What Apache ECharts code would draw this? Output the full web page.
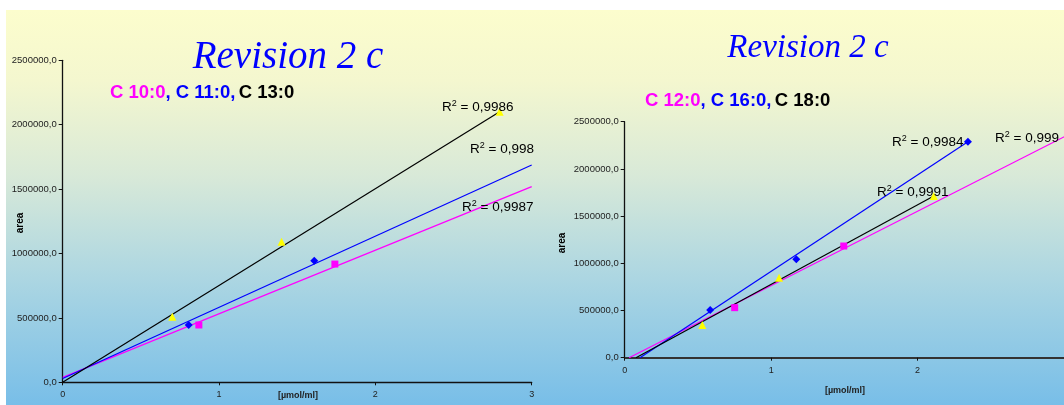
<!DOCTYPE html>
<html>
<head>
<meta charset="utf-8">
<script src="https://cdn.jsdelivr.net/npm/echarts@6/dist/echarts.min.js"></script>
<style>
html,body{margin:0;padding:0;background:#fff;}
#bg{position:absolute;left:6px;top:10px;width:1058px;height:395px;
background:linear-gradient(to bottom,#fcfdcd 0%,#f4f7cf 18%,#d8e9d8 42%,#acd6e2 68%,#78bee8 100%);}
#chart{position:absolute;left:0;top:0;width:1064px;height:405px;}
</style>
</head>
<body>
<div id="bg"></div>
<div id="chart"></div>
<script>
// ---- data ----
const titleText = 'Revision 2 c';
const leftNames = ['C 10:0', 'C 11:0', 'C 13:0'];
const rightNames = ['C 12:0', 'C 16:0', 'C 18:0'];
const xTicks = [0, 1, 2, 3];
const yTicks = [0, 500000, 1000000, 1500000, 2000000, 2500000];

// left panel points [µmol/ml, area]
const c10 = [[0.871, 445000], [1.741, 918000]];
const c11 = [[0.806, 445000], [1.609, 944000]];
const c13 = [[0.701, 509000], [1.400, 1092000], [2.795, 2100000]];
// left trendline endpoints
const c10Trend = [[0, 38000], [3, 1519000]];
const c11Trend = [[0, 30000], [3, 1687000]];
const c13Trend = [[0, 0], [2.795, 2100000]];
const leftR2 = ['0,9987', '0,998', '0,9986'];

// right panel points
const c12 = [[0.751, 530000], [1.496, 1183000]];
const c16 = [[0.584, 505000], [1.172, 1042000], [2.344, 2288000]];
const c18 = [[0.530, 346000], [1.054, 847000], [2.111, 1713000]];
// right trendline endpoints
const c12Trend = [[0.03, 0], [3.05, 2378000]];
const c16Trend = [[0.104, 0], [2.344, 2288000]];
const c18Trend = [[0.077, 0], [2.111, 1713000]];
const rightR2 = ['0,999', '0,9984', '0,9991'];

const MAG = '#ff00ff', BLU = '#0000ff', BLK = '#000000', YEL = '#ffff00';

const chart = echarts.init(document.getElementById('chart'), null, {renderer: 'canvas'});

function yFmt(v) { return v.toFixed(1).replace('.', ','); }

function xAxis(i) {
  return {
    type: 'value', gridIndex: i, min: xTicks[0], max: xTicks[xTicks.length - 1], interval: 1,
    axisLine: {onZero: false, lineStyle: {color: i === 0 ? '#111' : '#333', width: i === 0 ? 1.3 : 1.8}},
    axisTick: {show: true, length: 3, lineStyle: {color: '#111'}},
    axisLabel: {fontFamily: 'Liberation Sans, Arial', fontSize: 9, color: '#222', margin: 8,
      showMaxLabel: i === 0},
    splitLine: {show: false}
  };
}
function yAxis(i) {
  return {
    type: 'value', gridIndex: i, min: yTicks[0], max: yTicks[yTicks.length - 1], interval: 500000,
    axisLine: {show: true, lineStyle: {color: '#111', width: 1.3}},
    axisTick: {show: true, length: 4, lineStyle: {color: '#111'}},
    axisLabel: {fontFamily: 'Liberation Sans, Arial', fontSize: 9.5, color: '#222', margin: 6, formatter: yFmt},
    splitLine: {show: false}
  };
}
function pts(data, idx, color, symbol, size) {
  return {type: 'scatter', xAxisIndex: idx, yAxisIndex: idx, data: data, symbol: symbol,
    symbolSize: size, itemStyle: {color: color, opacity: 1}, z: 3, silent: true};
}
function trend(data, idx, color) {
  return {type: 'line', xAxisIndex: idx, yAxisIndex: idx, data: data, symbol: 'none',
    lineStyle: {color: color, width: 1.2}, z: 2, clip: true, silent: true, animation: false};
}
function r2(txt, x, y) {
  return {type: 'text', left: x, top: y - 9, z: 10,
    style: {text: 'R{s|2} = ' + txt, font: '13.5px Liberation Sans', fill: '#000',
      rich: {s: {fontSize: 9, fontFamily: 'Liberation Sans', padding: [0, 0, 7, 0], fill: '#000'}}}};
}
function sub(names, x, y) {
  const f = {fontFamily: 'Liberation Sans', fontWeight: 'bold', fontSize: 18.5};
  return {type: 'text', left: x, top: y - 11, z: 10,
    style: {text: '{m|' + names[0] + '}{b|, ' + names[1] + ',} {k|' + names[2] + '}',
      rich: {
        m: Object.assign({fill: MAG, color: MAG}, f),
        b: Object.assign({fill: BLU, color: BLU}, f),
        k: Object.assign({fill: BLK, color: BLK}, f)
      }}};
}

const option = {
  animation: false,
  backgroundColor: 'transparent',
  grid: [
    {left: 62.7, top: 60.3, width: 469, height: 322, containLabel: false},
    {left: 624.7, top: 121.7, width: 442, height: 236, containLabel: false}
  ],
  xAxis: [xAxis(0), xAxis(1)],
  yAxis: [yAxis(0), yAxis(1)],
  series: [
    trend(c10Trend, 0, MAG), trend(c11Trend, 0, BLU), trend(c13Trend, 0, BLK),
    pts(c10, 0, MAG, 'rect', 7), pts(c11, 0, BLU, 'diamond', 8), pts(c13, 0, YEL, 'triangle', 8),
    trend(c12Trend, 1, MAG), trend(c16Trend, 1, BLU), trend(c18Trend, 1, BLK),
    pts(c12, 1, MAG, 'rect', 7), pts(c16, 1, BLU, 'diamond', 8), pts(c18, 1, YEL, 'triangle', 8)
  ],
  graphic: [
    {type: 'text', x: 288, y: 58, z: 10, style: {text: titleText, fontFamily: 'Liberation Serif',
      fontStyle: 'italic', fontSize: 39, fill: BLU, textAlign: 'center', textVerticalAlign: 'middle'}},
    {type: 'text', x: 808, y: 48, z: 10, style: {text: titleText, fontFamily: 'Liberation Serif',
      fontStyle: 'italic', fontSize: 33, fill: BLU, textAlign: 'center', textVerticalAlign: 'middle'}},
    sub(leftNames, 110, 94.5),
    sub(rightNames, 645, 102),
    {type: 'text', x: 20, y: 223, rotation: Math.PI / 2, z: 10, style: {text: 'area',
      fontFamily: 'Liberation Sans', fontWeight: 'bold', fontSize: 10, fill: '#000',
      textAlign: 'center', textVerticalAlign: 'middle'}},
    {type: 'text', x: 562, y: 243, rotation: Math.PI / 2, z: 10, style: {text: 'area',
      fontFamily: 'Liberation Sans', fontWeight: 'bold', fontSize: 10, fill: '#000',
      textAlign: 'center', textVerticalAlign: 'middle'}},
    {type: 'text', x: 298, y: 396, z: 10, style: {text: '[µmol/ml]',
      fontFamily: 'Liberation Sans', fontWeight: 'bold', fontSize: 9, fill: '#222',
      textAlign: 'center', textVerticalAlign: 'middle'}},
    {type: 'text', x: 845, y: 391, z: 10, style: {text: '[µmol/ml]',
      fontFamily: 'Liberation Sans', fontWeight: 'bold', fontSize: 9, fill: '#222',
      textAlign: 'center', textVerticalAlign: 'middle'}},
    r2(leftR2[2], 442, 108),
    r2(leftR2[1], 470, 150.5),
    r2(leftR2[0], 462, 208.5),
    r2(rightR2[1], 892, 143.5),
    r2(rightR2[0], 995, 139.5),
    r2(rightR2[2], 877, 193.5)
  ]
};
chart.setOption(option);
</script>
</body>
</html>
